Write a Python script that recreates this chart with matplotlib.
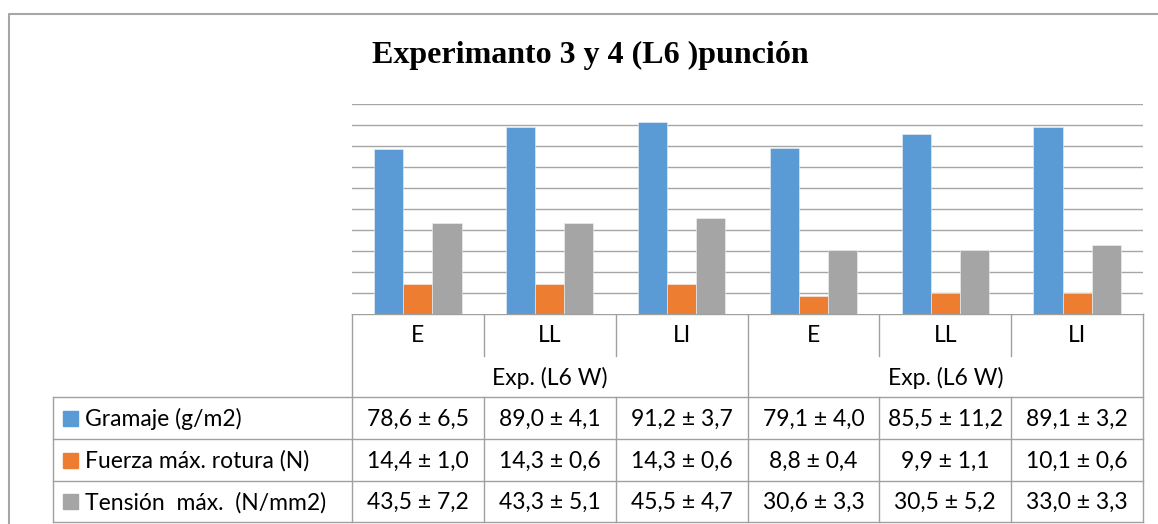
import matplotlib
matplotlib.use("Agg")
import matplotlib.pyplot as plt
import numpy as np

# data
categories = ["E", "LL", "LI", "E", "LL", "LI"]
group_labels = ["Exp. (L6 W)", "Exp. (L6 W)"]
series_names = ["Gramaje (g/m2)", "Fuerza máx. rotura (N)", "Tensión  máx.  (N/mm2)"]
gramaje = [78.6, 89.0, 91.2, 79.1, 85.5, 89.1]
gramaje_sd = [6.5, 4.1, 3.7, 4.0, 11.2, 3.2]
fuerza = [14.4, 14.3, 14.3, 8.8, 9.9, 10.1]
fuerza_sd = [1.0, 0.6, 0.6, 0.4, 1.1, 0.6]
tension = [43.5, 43.3, 45.5, 30.6, 30.5, 33.0]
tension_sd = [7.2, 5.1, 4.7, 3.3, 5.2, 3.3]
colors = ["#5B9BD5", "#ED7D31", "#A5A5A5"]

W, H = 1158, 524
fig = plt.figure(figsize=(W / 100, H / 100), dpi=100)

# plot area in pixels
L, R, T, B = 352, 1143, 104, 314
ax = fig.add_axes([L / W, 1 - B / H, (R - L) / W, (B - T) / H])
x = np.arange(len(categories))
bw = 0.221
for i, (vals, c) in enumerate(zip([gramaje, fuerza, tension], colors)):
    ax.bar(x + (i - 1) * bw, vals, bw, color=c, edgecolor="#f2f2f2", linewidth=0.4, zorder=3)
ax.set_xlim(-0.5, len(categories) - 0.5)
ax.set_ylim(0, 100)
ax.set_yticks(np.arange(10, 101, 10))
ax.yaxis.grid(True, color="#a6a6a6", linewidth=1.0, zorder=0)
ax.set_xticks([])
ax.tick_params(left=False, labelleft=False)
for s in ax.spines.values():
    s.set_visible(False)

# overlay in pixel coords for the data table and frame
ov = fig.add_axes([0, 0, 1, 1], zorder=-1)
ov.set_xlim(0, W)
ov.set_ylim(H, 0)
ov.axis("off")
ov.patch.set_alpha(0)

lc = "#a0a0a0"
lw = 1.0
tf = "Lato"
fs = 16.5

# outer chart border
ov.plot([8.5, 8.5, W], [H, 13.5, 13.5], color="#a6a6a6", lw=1.5)

cw = (R - L) / len(categories)
edges = [L + k * cw for k in range(len(categories) + 1)]
r_cat, r_grp = 356, 397
rows = [397, 439, 481, 522]
lab_x = 53

# horizontal lines
ov.plot([L, R], [B, B], color=lc, lw=lw)
for y in rows:
    ov.plot([lab_x, R], [y, y], color=lc, lw=lw)
# vertical lines
ov.plot([lab_x, lab_x], [rows[0], rows[-1]], color=lc, lw=lw)
for k, ex in enumerate(edges):
    if k in (0, 3, 6):
        ov.plot([ex, ex], [B, rows[-1]], color=lc, lw=lw)
    else:
        ov.plot([ex, ex], [B, r_cat], color=lc, lw=lw)
        ov.plot([ex, ex], [rows[0], rows[-1]], color=lc, lw=lw)

# category and group labels
for k, cat in enumerate(categories):
    ov.text((edges[k] + edges[k + 1]) / 2, (B + r_cat) / 2 + 1, cat, ha="center", va="center",
            fontsize=fs, family=tf)
for g, lab in enumerate(group_labels):
    ov.text((edges[3 * g] + edges[3 * g + 3]) / 2, (r_cat + r_grp) / 2 + 1, lab, ha="center",
            va="center", fontsize=fs, family=tf)

# data rows
for r, (name, vals, sds, c) in enumerate(zip(series_names, [gramaje, fuerza, tension],
                                             [gramaje_sd, fuerza_sd, tension_sd], colors)):
    yc = (rows[r] + rows[r + 1]) / 2 + 1
    ov.add_patch(plt.Rectangle((63, yc - 8.5), 15, 15, color=c))
    ov.text(85, yc, name, ha="left", va="center", fontsize=fs, family=tf)
    for k, (v, sd) in enumerate(zip(vals, sds)):
        txt = f"{v:.1f} ± {sd:.1f}".replace(".", ",")
        ov.text((edges[k] + edges[k + 1]) / 2, yc, txt, ha="center", va="center",
                fontsize=fs, family=tf)

fig.text(590 / W, 1 - 55 / H, "Experimanto 3 y 4 (L6 )punción", ha="center", va="center",
         fontsize=23, fontweight="bold", family="Liberation Serif")

fig.savefig("out.png", dpi=100)
